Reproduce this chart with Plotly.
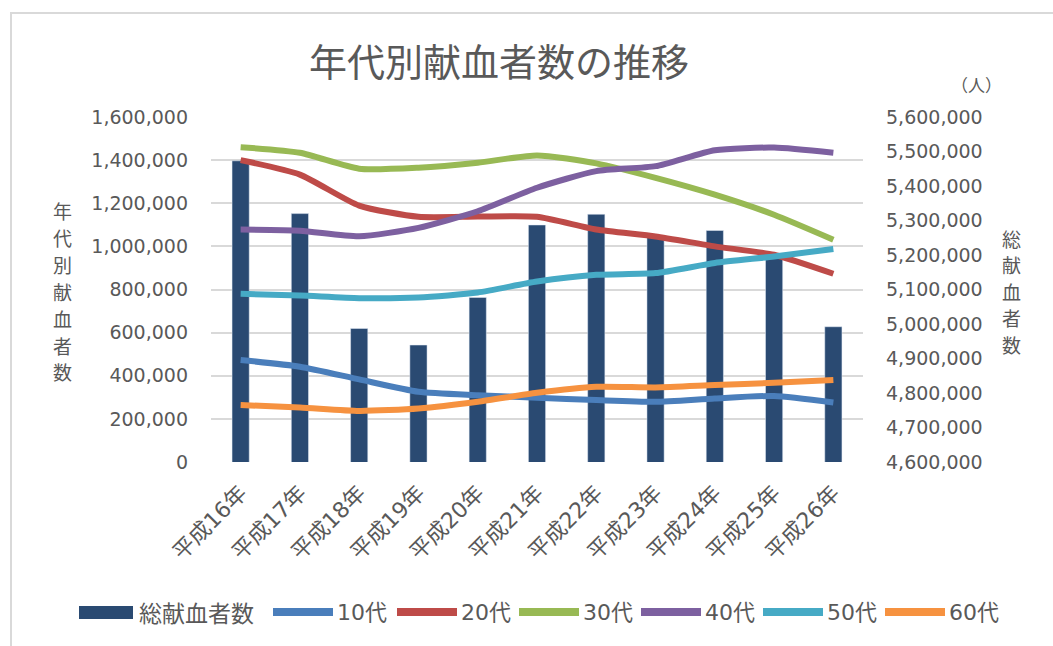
import plotly.graph_objects as go

categories = ["平成16年", "平成17年", "平成18年", "平成19年", "平成20年", "平成21年",
              "平成22年", "平成23年", "平成24年", "平成25年", "平成26年"]
total = [5473000, 5320000, 4987000, 4939000, 5077000, 5287000,
         5318000, 5252000, 5271000, 5205000, 4992000]
teens = [473000, 442000, 383000, 326000, 310000, 298000, 287000, 279000, 295000, 306000, 276000]
twenties = [1400000, 1333000, 1189000, 1137000, 1138000, 1137000, 1078000, 1046000, 1000000, 961000, 873000]
thirties = [1460000, 1434000, 1360000, 1365000, 1388000, 1422000, 1385000, 1318000, 1240000, 1147000, 1031000]
forties = [1078000, 1073000, 1047000, 1086000, 1163000, 1272000, 1349000, 1372000, 1446000, 1458000, 1434000]
fifties = [780000, 772000, 760000, 763000, 786000, 837000, 868000, 876000, 923000, 953000, 988000]
sixties = [264000, 253000, 237000, 248000, 279000, 321000, 349000, 346000, 357000, 367000, 380000]

series_names = ["10代", "20代", "30代", "40代", "50代", "60代"]
series_values = [teens, twenties, thirties, forties, fifties, sixties]
series_colors = ["#4a7ebb", "#be4b48", "#98b954", "#7d60a0", "#46aac5", "#f69240"]
bar_name = "総献血者数"
bar_color = "#2a4a72"
title_text = "年代別献血者数の推移"
left_title = "年代別献血者数"
right_title = "総献血者数"
unit_text = "（人）"

W, H = 1053, 646
L, R, T, B = 211, 190, 117, 184
PW, PH = W - L - R, H - T - B
FONT = "DejaVu Sans, Noto Sans CJK JP, sans-serif"
CJK = "Noto Sans CJK JP, sans-serif"
GRAY = "#595959"


def px(x):
    return (x - L) / PW


def py(y):
    return (H - B - y) / PH


fig = go.Figure()
fig.add_trace(go.Bar(x=categories, y=total, name=bar_name, marker_color=bar_color,
                     width=0.29, yaxis="y", showlegend=False))
for name, vals, col in zip(series_names, series_values, series_colors):
    fig.add_trace(go.Scatter(x=categories, y=vals, name=name, mode="lines",
                             line=dict(color=col, width=6, shape="spline", smoothing=0.6),
                             yaxis="y2", showlegend=False))

shapes = [dict(type="rect", xref="paper", yref="paper", x0=px(11), x1=px(1062),
               y0=py(13), y1=py(660), line=dict(color="#d9d9d9", width=2), layer="below")]
annotations = [
    dict(text=title_text, x=px(499), y=py(59), xref="paper", yref="paper",
         showarrow=False, font=dict(size=38, color=GRAY, family=CJK), xanchor="center", yanchor="middle"),
    dict(text=unit_text, x=px(976), y=py(84), xref="paper", yref="paper",
         showarrow=False, font=dict(size=17, color=GRAY, family=CJK), xanchor="center", yanchor="middle"),
]
# vertical (stacked) axis titles, one character per line
for i, ch in enumerate(left_title):
    annotations.append(dict(text=ch, x=px(62), y=py(210 + i * 26.9), xref="paper", yref="paper",
                            showarrow=False, font=dict(size=19, color=GRAY, family=CJK), borderpad=0,
                            height=24, xanchor="center", yanchor="middle"))
for i, ch in enumerate(right_title):
    annotations.append(dict(text=ch, x=px(1012), y=py(238 + i * 26.4), xref="paper", yref="paper",
                            showarrow=False, font=dict(size=19, color=GRAY, family=CJK), borderpad=0,
                            height=24, xanchor="center", yanchor="middle"))

# manual legend
ly = 612
shapes.append(dict(type="rect", xref="paper", yref="paper", x0=px(79), x1=px(133),
                   y0=py(606), y1=py(619), fillcolor=bar_color, line=dict(width=0)))
annotations.append(dict(text=bar_name, x=px(137), y=py(ly), xref="paper", yref="paper",
                        showarrow=False, xanchor="left", yanchor="middle",
                        font=dict(size=23, color=GRAY, family=CJK)))
x0s = [273, 397, 519, 641, 763, 885]
for name, col, x0 in zip(series_names, series_colors, x0s):
    shapes.append(dict(type="line", xref="paper", yref="paper", x0=px(x0), x1=px(x0 + 60),
                       y0=py(ly), y1=py(ly), line=dict(color=col, width=8)))
    annotations.append(dict(text=name, x=px(x0 + 62), y=py(ly), xref="paper", yref="paper",
                            showarrow=False, xanchor="left", yanchor="middle",
                            font=dict(size=22, color=GRAY, family=FONT)))

fig.update_layout(
    width=W, height=H,
    margin=dict(l=L, r=R, t=T, b=B, pad=0),
    paper_bgcolor="white", plot_bgcolor="white",
    font=dict(family=FONT, color=GRAY),
    xaxis=dict(type="category", tickangle=-45, tickfont=dict(size=22, color=GRAY, family=FONT),
               showgrid=False, showline=False, ticks="", ticklabelstandoff=13),
    yaxis=dict(side="right", range=[4600000, 5600000], dtick=100000, tickformat=",",
               showgrid=False, zeroline=False, tickfont=dict(size=19, color=GRAY, family=FONT),
               ticklabelstandoff=22),
    yaxis2=dict(side="left", overlaying="y", range=[0, 1600000], dtick=200000, tickformat=",",
                showgrid=True, gridcolor="#d9d9d9", gridwidth=2, zeroline=False,
                tickfont=dict(size=19, color=GRAY, family=FONT), ticklabelstandoff=22),
    shapes=shapes,
    annotations=annotations,
)

fig.write_html("out.html")
